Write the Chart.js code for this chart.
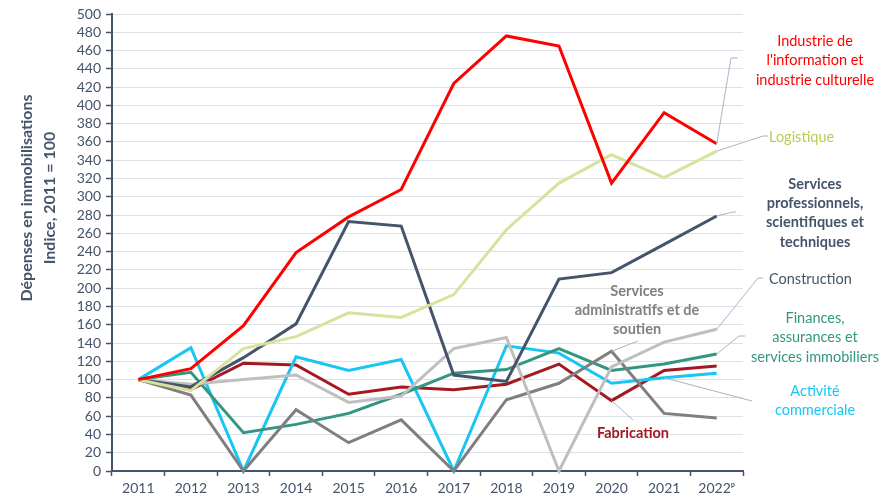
<!DOCTYPE html>
<html>
<head>
<meta charset="utf-8">
<script src="https://cdn.jsdelivr.net/npm/chart.js@4"></script>
<style>
  html, body { margin: 0; padding: 0; background: #ffffff; }
  #wrap { width: 895px; height: 499px; }
</style>
</head>
<body>
<div id="wrap"><canvas id="c" width="895" height="499"></canvas></div>
<script>
// ---- Data ----
const years = ['2011','2012','2013','2014','2015','2016','2017','2018','2019','2020','2021','2022ᵖ'];
const yTicks = [0,20,40,60,80,100,120,140,160,180,200,220,240,260,280,300,320,340,360,380,400,420,440,460,480,500];

const infoCulture   = [100,112,159,239,278,308,424,476,465,315,392,358];
const logistique    = [100, 88,134,147,173,168,193,264,315,346,321,350];
const servicesPro   = [100, 92,124,161,273,268,105, 98,210,217,248,279];
const construction  = [100, 95,100,105, 75, 82,134,146,  0,114,141,155];
const servicesAdmin = [100, 83,  0, 67, 31, 56,  0, 78, 96,131, 63, 58];
const finances      = [100,108, 42, 51, 63, 84,107,111,134,110,117,128];
const commerce      = [100,135,  0,125,110,122,  0,137,129, 96,102,107];
const fabrication   = [100, 89,118,116, 84, 92, 89, 95,117, 77,110,115];

const seriesNames = [
  "Industrie de l'information et industrie culturelle",
  'Logistique',
  'Services professionnels, scientifiques et techniques',
  'Construction',
  'Services administratifs et de soutien',
  'Finances, assurances et services immobiliers',
  'Activité commerciale',
  'Fabrication'
];
const seriesData = [infoCulture, logistique, servicesPro, construction, servicesAdmin, finances, commerce, fabrication];
const seriesColors = ['#ff0000','#d7e39c','#44546a','#bfbfbf','#7f7f7f','#339681','#19c6f3','#a3191f'];

const axisTitleLines = ['Dépenses en immobilisations', 'Indice, 2011 = 100'];

// ---- Label annotations (layout) ----
const FONT = 'Lato, "Open Sans", sans-serif';
const labels = [
  { s: 0, lines: ['Industrie de', "l'information et", 'industrie culturelle'], color: '#ff0000', bold: false, x: 815, y: 41, lh: 19.5, align: 'center',
    leader: { idx: 11, pts: [[731,58],[738,58]] } },
  { s: 1, lines: ['Logistique'], color: '#b9cc55', bold: false, x: 769, y: 137, lh: 19.5, align: 'left',
    leader: { idx: 11, pts: [[763,136],[768,136]] } },
  { s: 2, lines: ['Services', 'professionnels,', 'scientifiques et', 'techniques'], color: '#44546a', bold: true, x: 815, y: 184, lh: 19.3, align: 'center',
    leader: { idx: 11, pts: [[733,212],[736,212]] } },
  { s: 3, lines: ['Construction'], color: '#44546a', bold: false, x: 769, y: 279, lh: 19.5, align: 'left',
    leader: { idx: 11, pts: [[758,278],[763,278]] } },
  { s: 5, lines: ['Finances,', 'assurances et', 'services immobiliers'], color: '#339681', bold: false, x: 815, y: 318, lh: 19.6, align: 'center',
    leader: { idx: 11, pts: [[739,336],[745,336]] } },
  { s: 6, lines: ['Activité', 'commerciale'], color: '#19c6f3', bold: false, x: 815, y: 391, lh: 19.5, align: 'center',
    leader: { idx: 10, pts: [[752,401]] } },
  { s: 4, lines: ['Services', 'administratifs et de', 'soutien'], color: '#7f7f7f', bold: true, x: 637, y: 291, lh: 19.3, align: 'center',
    leader: { idx: 9, pts: [[638,341]] } },
  { s: 7, lines: ['Fabrication'], color: '#a3191f', bold: true, x: 633, y: 433, lh: 19.5, align: 'center',
    leader: { idx: 9, pts: [[633,420]] } }
];

const annotPlugin = {
  id: 'annot',
  afterDatasetsDraw(chart) {
    const ctx = chart.ctx;
    ctx.save();
    ctx.strokeStyle = '#a8b4c6';
    ctx.lineWidth = 1;
    labels.forEach(l => {
      const meta = chart.getDatasetMeta(l.s);
      const el = meta.data[l.leader.idx];
      ctx.beginPath();
      ctx.moveTo(el.x, el.y);
      l.leader.pts.forEach(p => ctx.lineTo(p[0], p[1]));
      ctx.stroke();
    });
    ctx.textBaseline = 'middle';
    labels.forEach(l => {
      ctx.fillStyle = l.color;
      ctx.font = (l.bold ? 'bold ' : '') + '14.5px ' + FONT;
      ctx.textAlign = l.align;
      l.lines.forEach((t, i) => ctx.fillText(t, l.x, l.y + i * l.lh));
    });
    ctx.fillStyle = '#44546a';
    ctx.font = 'bold 16px ' + FONT;
    ctx.textAlign = 'center';
    [27, 50].forEach((x, i) => {
      ctx.save();
      ctx.translate(x, 198);
      ctx.rotate(-Math.PI / 2);
      ctx.fillText(axisTitleLines[i], 0, 0);
      ctx.restore();
    });
    ctx.restore();
  }
};

const datasets = seriesData.map((d, i) => ({
  label: seriesNames[i],
  data: d,
  borderColor: seriesColors[i],
  backgroundColor: seriesColors[i],
  borderWidth: 3,
  pointRadius: 0,
  pointHoverRadius: 0,
  tension: 0,
  fill: false,
  clip: false,
  borderJoinStyle: 'miter'
}));

new Chart(document.getElementById('c'), {
  type: 'line',
  data: { labels: years, datasets },
  options: {
    responsive: false,
    animation: false,
    events: [],
    layout: { autoPadding: false, padding: { top: 14, right: 152, left: 0, bottom: 0 } },
    plugins: { legend: { display: false }, tooltip: { enabled: false }, title: { display: false } },
    scales: {
      x: {
        type: 'category',
        offset: true,
        afterFit(scale) { scale.height = 28; },
        grid: { offset: true, drawOnChartArea: false, drawTicks: true, tickLength: 5, tickColor: '#44546a', tickWidth: 1.5 },
        border: { color: '#44546a', width: 2 },
        ticks: { color: '#44546a', font: { family: FONT, size: 14 }, padding: 4, maxRotation: 0, autoSkip: false }
      },
      y: {
        min: 0, max: 500,
        afterFit(scale) { scale.width = 112; },
        afterBuildTicks(scale) { scale.ticks = yTicks.map(v => ({ value: v })); },
        grid: { color: '#dde1e8', lineWidth: 1, tickLength: 6, tickColor: '#44546a', tickWidth: 1.5 },
        border: { color: '#44546a', width: 2 },
        ticks: { color: '#44546a', font: { family: FONT, size: 14 }, padding: 5, autoSkip: false }
      }
    }
  },
  plugins: [annotPlugin]
});
</script>
</body>
</html>
